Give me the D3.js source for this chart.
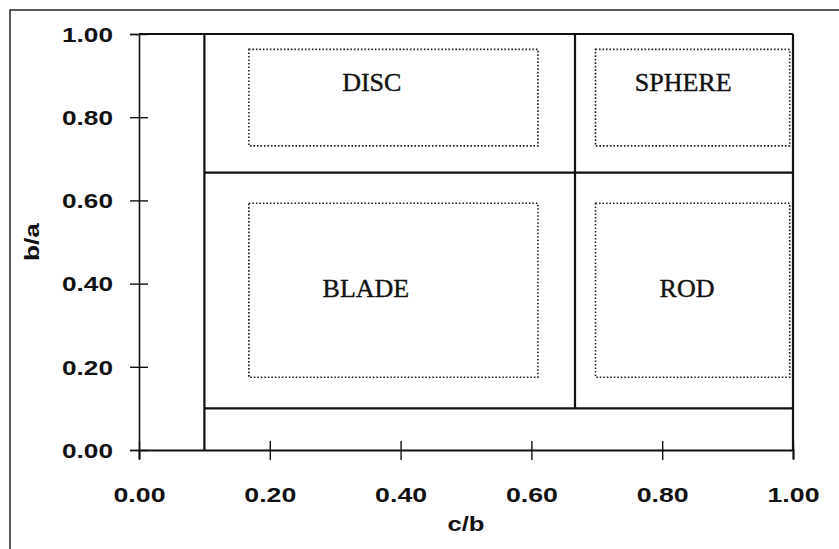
<!DOCTYPE html>
<html>
<head>
<meta charset="utf-8">
<script src="https://cdn.jsdelivr.net/npm/d3@7/dist/d3.min.js"></script>
<style>
  html, body { margin: 0; padding: 0; background: #fff; }
  svg { display: block; }
</style>
</head>
<body>
<svg id="chart" width="839" height="549"></svg>
<script>
// ---- data ----
const xTicks = [0, 0.2, 0.4, 0.6, 0.8, 1.0];
const yTicks = [0, 0.2, 0.4, 0.6, 0.8, 1.0];
const xTitle = "c/b";
const yTitle = "b/a";

// solid class boundaries: [x0, y0, x1, y1] in data units
const boundaries = [
  [0.1, 0, 0.1, 1],
  [2/3, 0.1, 2/3, 1],
  [0.1, 2/3, 1, 2/3],
  [0.1, 0.1, 1, 0.1],
  [0, 1, 1, 1],
  [1, 0, 1, 1]
];

// dotted class regions
const regionNames = ["DISC", "SPHERE", "BLADE", "ROD"];
const regionX0 = [0.168, 0.698, 0.168, 0.698];
const regionX1 = [0.610, 0.995, 0.610, 0.995];
const regionY0 = [0.731, 0.731, 0.175, 0.175];
const regionY1 = [0.963, 0.963, 0.593, 0.593];
const labelX = [0.356, 0.832, 0.347, 0.838];
const labelY = [0.885, 0.885, 0.39, 0.39];

// ---- layout ----
const svg = d3.select("#chart");
const x = d3.scaleLinear().domain([0, 1]).range([139, 793]);
const y = d3.scaleLinear().domain([0, 1]).range([450, 34]);

// outer frame
svg.append("path")
  .attr("d", "M10,560 L10,10 L850,10")
  .attr("fill", "none").attr("stroke", "#222").attr("stroke-width", 1.5);

// axes
const tickFont = "'Liberation Sans', Arial, sans-serif";
const xAxis = svg.append("g").attr("transform", `translate(0,${y(0)})`)
  .call(d3.axisBottom(x).tickValues(xTicks).tickFormat(d3.format(".2f")).tickSize(9).tickPadding(0));
xAxis.select(".domain").attr("stroke", "#111").attr("stroke-width", 2);
xAxis.selectAll(".tick line").attr("y1", -9).attr("y2", 10).attr("stroke", "#111").attr("stroke-width", 1.4);
xAxis.selectAll(".tick text")
  .attr("y", 52).attr("dy", 0)
  .attr("font-family", tickFont).attr("font-weight", "bold").attr("font-size", 20)
  .attr("fill", "#111")
  .attr("textLength", 52).attr("lengthAdjust", "spacingAndGlyphs");

const yAxis = svg.append("g").attr("transform", `translate(${x(0)},0)`)
  .call(d3.axisLeft(y).tickValues(yTicks).tickFormat(d3.format(".2f")).tickSize(9).tickPadding(0));
yAxis.select(".domain").attr("stroke", "#111").attr("stroke-width", 1.6);
yAxis.selectAll(".tick line").attr("x1", -9).attr("x2", 9).attr("stroke", "#111").attr("stroke-width", 1.4);
yAxis.selectAll(".tick text")
  .attr("x", -26).attr("dy", "0.36em")
  .attr("font-family", tickFont).attr("font-weight", "bold").attr("font-size", 20)
  .attr("fill", "#111")
  .attr("textLength", 51).attr("lengthAdjust", "spacingAndGlyphs");
svg.selectAll(".tick text").attr("font-family", tickFont);

// axis titles
svg.append("text")
  .attr("x", 466).attr("y", 531)
  .attr("text-anchor", "middle")
  .attr("font-family", tickFont).attr("font-weight", "bold").attr("font-size", 21)
  .attr("fill", "#111")
  .attr("textLength", 37).attr("lengthAdjust", "spacingAndGlyphs")
  .text(xTitle);
svg.append("text")
  .attr("transform", "translate(39,242) rotate(-90)")
  .attr("text-anchor", "middle")
  .attr("font-family", tickFont).attr("font-weight", "bold").attr("font-size", 21)
  .attr("fill", "#111")
  .attr("textLength", 38).attr("lengthAdjust", "spacingAndGlyphs")
  .text(yTitle);

// boundaries
svg.append("g").selectAll("line").data(boundaries).join("line")
  .attr("x1", d => x(d[0])).attr("y1", d => y(d[1]))
  .attr("x2", d => x(d[2])).attr("y2", d => y(d[3]))
  .attr("stroke", "#111").attr("stroke-width", 2.2);

// dotted regions
const idx = d3.range(regionNames.length);
svg.append("g").selectAll("rect").data(idx).join("rect")
  .attr("x", i => x(regionX0[i]))
  .attr("y", i => y(regionY1[i]))
  .attr("width", i => x(regionX1[i]) - x(regionX0[i]))
  .attr("height", i => y(regionY0[i]) - y(regionY1[i]))
  .attr("fill", "none").attr("stroke", "#222").attr("stroke-width", 1.6)
  .attr("stroke-dasharray", "1.6,1.9");

svg.append("g").selectAll("text").data(idx).join("text")
  .attr("x", i => x(labelX[i]))
  .attr("y", i => y(labelY[i]))
  .attr("dy", "0.35em")
  .attr("text-anchor", "middle")
  .attr("font-family", "'Liberation Serif', 'Times New Roman', serif")
  .attr("font-size", 26)
  .attr("fill", "#111")
  .attr("stroke", "#111").attr("stroke-width", 0.4)
  .text(i => regionNames[i]);
</script>
</body>
</html>
